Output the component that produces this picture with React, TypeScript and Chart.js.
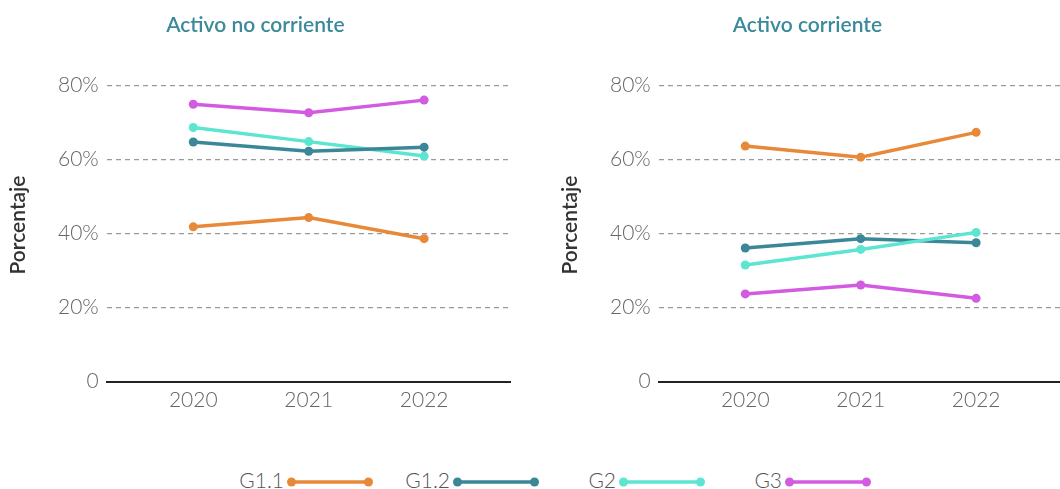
import React, { useEffect, useRef } from 'react';
import { Chart, registerables } from 'chart.js';

Chart.register(...registerables);

// ---- Data ----
const years = [2020, 2021, 2022];
const seriesNames = ['G1.1', 'G1.2', 'G2', 'G3'];
const seriesColors = ['#E8893A', '#3A8797', '#5CE5D1', '#D25BE2'];
const yTickValues = [0, 20, 40, 60, 80];
const panelTitles = ['Activo no corriente', 'Activo corriente'];
const yAxisTitle = 'Porcentaje';

// Activo no corriente (%)
const noCorrienteG11 = [41.8, 44.3, 38.6];
const noCorrienteG12 = [64.7, 62.2, 63.3];
const noCorrienteG2 = [68.6, 64.8, 60.9];
const noCorrienteG3 = [74.9, 72.6, 76.0];

// Activo corriente (%)
const corrienteG11 = [63.6, 60.6, 67.3];
const corrienteG12 = [36.1, 38.6, 37.5];
const corrienteG2 = [31.5, 35.7, 40.3];
const corrienteG3 = [23.7, 26.1, 22.5];

const FONT = 'Lato';

const yTitlePlugin = {
  id: 'yTitlePlugin',
  afterDraw(chart: any) {
    const { ctx, chartArea } = chart;
    ctx.save();
    ctx.translate(18, (chartArea.top + chartArea.bottom) / 2 - 8.5);
    ctx.rotate(-Math.PI / 2);
    ctx.font = `600 21px ${FONT}`;
    ctx.fillStyle = '#333333';
    ctx.textAlign = 'center';
    ctx.textBaseline = 'middle';
    ctx.fillText(yAxisTitle, 0, 0);
    ctx.restore();
  },
};

function Panel({ title, values, orders, left }: { title: string; values: number[][]; orders: number[]; left: number }) {
  const ref = useRef<HTMLCanvasElement>(null);
  useEffect(() => {
    const chart = new Chart(ref.current as HTMLCanvasElement, {
      type: 'line',
      data: {
        datasets: values.map((vals, s) => ({
          label: seriesNames[s],
          data: years.map((yr, i) => ({ x: yr, y: vals[i] })),
          borderColor: seriesColors[s],
          backgroundColor: seriesColors[s],
          pointBackgroundColor: seriesColors[s],
          pointBorderWidth: 0,
          pointRadius: 4.5,
          borderWidth: 3.5,
          order: orders[s],
          tension: 0,
        })),
      },
      options: {
        responsive: false,
        animation: false,
        layout: { padding: { left: 0, right: 7.3, top: 0, bottom: 18.3 } },
        plugins: {
          legend: { display: false },
          tooltip: { enabled: false },
          title: {
            display: true,
            text: title,
            color: '#3A8A9A',
            font: { family: FONT, size: 21, weight: '600' as any },
            padding: { top: 13, bottom: 47.1 },
          },
        },
        scales: {
          x: {
            type: 'linear',
            min: 2019.25,
            max: 2022.75,
            afterBuildTicks: (s: any) => {
              s.ticks = years.map((v) => ({ value: v }));
            },
            afterFit: (s: any) => {
              s.height = 40;
            },
            grid: { display: false, drawTicks: false },
            border: { display: true, color: '#222222', width: 2 },
            ticks: {
              callback: (v: any) => String(v),
              color: '#666666',
              padding: 6,
              maxRotation: 0,
              autoSkip: false,
              font: { family: FONT, size: 21, weight: '300' as any },
            },
          },
          y: {
            min: 0,
            max: 80,
            afterBuildTicks: (s: any) => {
              s.ticks = yTickValues.map((v) => ({ value: v }));
            },
            afterFit: (s: any) => {
              s.width = 106.7;
            },
            grid: {
              drawTicks: false,
              color: (c: any) => (c.tick && c.tick.value === 0 ? 'rgba(0,0,0,0)' : '#9A9A9A'),
              lineWidth: 1.2,
            },
            border: { display: false, dash: [5, 4] },
            ticks: {
              callback: (v: any) => (v === 0 ? '0' : v + '%'),
              color: '#666666',
              padding: 8,
              font: { family: FONT, size: 21, weight: '300' as any },
            },
          },
        },
      } as any,
      plugins: [yTitlePlugin],
    });
    return () => chart.destroy();
  }, []);
  return (
    <canvas
      ref={ref}
      width={518}
      height={440}
      style={{ position: 'absolute', left, top: 0, width: 518, height: 440 }}
    />
  );
}

function Legend() {
  return (
    <div
      style={{
        position: 'absolute',
        left: 207,
        top: 468,
        height: 24,
        display: 'flex',
        alignItems: 'center',
      }}
    >
      {seriesNames.map((name, i) => (
        <div
          key={name}
          style={{
            width: 166,
            display: 'flex',
            justifyContent: 'flex-end',
            alignItems: 'center',
          }}
        >
          <span
            style={{
              fontFamily: FONT,
              fontWeight: 300,
              fontSize: 21,
              lineHeight: '24px',
              color: '#555555',
              marginRight: 3,
            }}
          >
            {name}
          </span>
          <svg width={86} height={10} style={{ display: 'block', marginTop: 3 }}>
            <line x1={4.5} y1={5} x2={81.5} y2={5} stroke={seriesColors[i]} strokeWidth={3.5} />
            <circle cx={4.5} cy={5} r={4.5} fill={seriesColors[i]} />
            <circle cx={81.5} cy={5} r={4.5} fill={seriesColors[i]} />
          </svg>
        </div>
      ))}
    </div>
  );
}

export default function App() {
  return (
    <div
      style={{
        position: 'fixed',
        left: 0,
        top: 0,
        width: 1060,
        height: 489,
        overflow: 'hidden',
        background: '#ffffff',
      }}
    >
      <Panel
        title={panelTitles[0]}
        values={[noCorrienteG11, noCorrienteG12, noCorrienteG2, noCorrienteG3]}
        orders={[0, 0, 0, 0]}
        left={0}
      />
      <Panel
        title={panelTitles[1]}
        values={[corrienteG11, corrienteG12, corrienteG2, corrienteG3]}
        orders={[0, 1, 0, 0]}
        left={552}
      />
      <Legend />
    </div>
  );
}
